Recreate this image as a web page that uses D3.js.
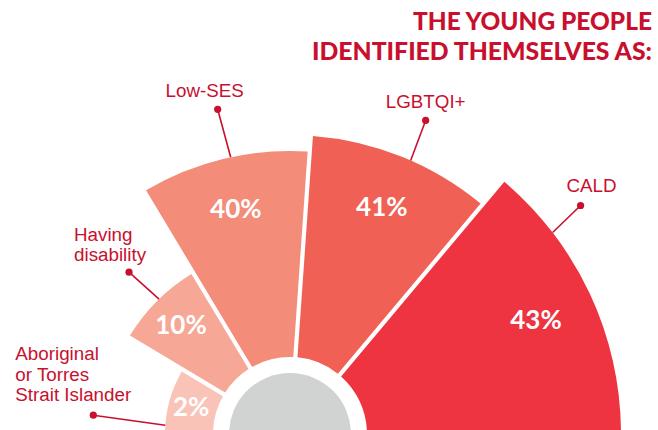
<!DOCTYPE html>
<html>
<head>
<meta charset="utf-8">
<script src="https://cdn.jsdelivr.net/npm/d3@7"></script>
<style>
  html, body { margin: 0; padding: 0; background: #fff; }
  svg { display: block; }
</style>
</head>
<body>
<div id="chart"></div>
<script>
// data
const categories = ['Aboriginal or Torres Strait Islander', 'Having disability', 'Low-SES', 'LGBTQI+', 'CALD'];
const labelLines = [['Aboriginal', 'or Torres', 'Strait Islander'], ['Having', 'disability'], ['Low-SES'], ['LGBTQI+'], ['CALD']];
const percents = [2, 10, 40, 41, 43];
const titleLines = ['THE YOUNG PEOPLE', 'IDENTIFIED THEMSELVES AS:'];

const colors = ['#f9c4b7', '#f6a795', '#f38c79', '#f06055', '#ee3440'];
const red = '#c8102e';

const width = 658, height = 430;
const cx = 290, cy = 434;
const innerR = 77, hubR = 61;

// angular share of each wedge (degrees), as laid out in the source graphic
const sweep = [31, 28, 35, 36, 50];

const svg = d3.select('#chart').append('svg')
    .attr('width', width)
    .attr('height', height);

// radius scale: designer exaggerates the small values, so piecewise
const r = d3.scaleLinear()
    .domain([0, 2, 10, 40, 43])
    .range([innerR, 125, 188, 283, 331]);

const pie = d3.pie()
    .sort(null)
    .value((d, i) => sweep[i])
    .startAngle(-Math.PI / 2)
    .endAngle(Math.PI / 2);

const arcs = pie(percents);

const arc = d3.arc()
    .innerRadius(innerR)
    .outerRadius(d => r(d.data))
    .padAngle(0.014)
    .padRadius(300);

const g = svg.append('g').attr('transform', `translate(${cx},${cy})`);

g.selectAll('path.wedge')
    .data(arcs)
    .enter().append('path')
    .attr('class', 'wedge')
    .attr('d', arc)
    .style('fill', (d, i) => colors[i]);

g.append('circle')
    .attr('r', hubR)
    .style('fill', '#d1d3d2');

// percent labels
g.selectAll('text.pct')
    .data(arcs)
    .enter().append('text')
    .attr('class', 'pct')
    .attr('transform', d => {
        const a = (d.startAngle + d.endAngle) / 2;
        const rr = r(d.data) * 0.82;
        return `translate(${Math.sin(a) * rr},${-Math.cos(a) * rr})`;
    })
    .attr('dy', '0.36em')
    .style('text-anchor', 'middle')
    .style('font-family', 'Lato, "Open Sans", sans-serif')
    .style('font-weight', 700)
    .style('font-size', '26px')
    .style('fill', '#fff')
    .text(d => d.data + '%');

// leader lines: point on the arc, then a dot, then the label
// text offset = position of the last line's baseline relative to the dot
const notes = [
    { f: 0.13, dot: [-72, -10], text: [-78, -14], anchor: 'start' },
    { f: 0.53, dot: [-30, -27], text: [-55, -11], anchor: 'start' },
    { f: 0.54, dot: [-13, -48], text: [-13, -12], anchor: 'middle' },
    { f: 0.55, dot: [15, -40], text: [0, -12], anchor: 'middle' },
    { f: 0.25, dot: [28, -27], text: [11, -14], anchor: 'middle' }
];

g.selectAll('g.note')
    .data(arcs)
    .enter().append('g')
    .attr('class', 'note')
    .each(function (d, i) {
        const n = notes[i];
        const a = d.startAngle + n.f * (d.endAngle - d.startAngle);
        const rr = r(d.data);
        const x0 = Math.sin(a) * rr, y0 = -Math.cos(a) * rr;
        const x1 = x0 + n.dot[0], y1 = y0 + n.dot[1];
        const sel = d3.select(this);
        sel.append('line')
            .attr('x1', x0).attr('y1', y0)
            .attr('x2', x1).attr('y2', y1)
            .style('stroke', red)
            .style('stroke-width', 1.6);
        sel.append('circle')
            .attr('cx', x1).attr('cy', y1)
            .attr('r', 3.6)
            .style('fill', red);
        const lines = labelLines[i];
        const t = sel.append('text')
            .style('text-anchor', n.anchor)
            .style('font-family', '"Liberation Sans", Arial, sans-serif')
            .style('font-size', '18.8px')
            .style('fill', red);
        lines.forEach((s, k) => {
            t.append('tspan')
                .attr('x', x1 + n.text[0])
                .attr('y', y1 + n.text[1] - (lines.length - 1 - k) * 20.5)
                .text(s);
        });
    });

// title
const titleWidths = [239, 340];
svg.selectAll('text.title')
    .data(titleLines)
    .enter().append('text')
    .attr('class', 'title')
    .attr('x', 652)
    .attr('y', (d, i) => 30 + i * 30)
    .attr('textLength', (d, i) => titleWidths[i])
    .attr('lengthAdjust', 'spacingAndGlyphs')
    .style('text-anchor', 'end')
    .style('font-family', 'Lato, Inter, sans-serif')
    .style('font-weight', 900)
    .style('font-size', '24px')
    .style('fill', red)
    .text(d => d);
</script>
</body>
</html>
